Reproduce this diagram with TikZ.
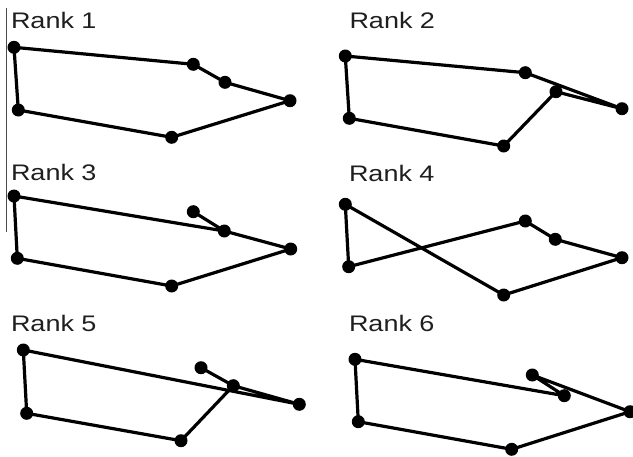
\documentclass[tikz,border=0pt]{standalone}
\usepackage{graphicx}
\usepackage{fontspec}
\setmainfont{Liberation Sans}
\tikzset{
  dot/.style={circle,fill=black,inner sep=0pt,minimum size=13pt},
  edge/.style={line width=3.2pt,line join=round,line cap=round},
  ranklabel/.style={anchor=base west,inner sep=0pt,outer sep=0pt,font=\fontsize{22.5}{26}\selectfont,text=black!88},
  rule/.style={line width=1pt,black!70}
}
\newcommand{\ranktext}[1]{\scalebox{1.2}[1]{#1}}
\begin{document}
\begin{tikzpicture}[x=1pt,y=-1pt]
\useasboundingbox (0,0) rectangle (633,456);
% vertical rule
\coordinate (r1) at (6.5,8);
\coordinate (r2) at (6.5,232);
\draw[rule] (r1) -- (r2);
% labels
\node[ranklabel] (l1) at (11,28.3) {\ranktext{Rank 1}};
\node[ranklabel] (l2) at (349.5,28.3) {\ranktext{Rank 2}};
\node[ranklabel] (l3) at (11,180.7) {\ranktext{Rank 3}};
\node[ranklabel] (l4) at (349,181) {\ranktext{Rank 4}};
\node[ranklabel] (l5) at (11,331.7) {\ranktext{Rank 5}};
\node[ranklabel] (l6) at (349,331.7) {\ranktext{Rank 6}};
% panel 1
\node[dot] (a1) at (14,47.3) {};
\node[dot] (f1) at (193.3,64.3) {};
\node[dot] (e1) at (225,82.3) {};
\node[dot] (d1) at (290,100.7) {};
\node[dot] (c1) at (171.7,137.3) {};
\node[dot] (b1) at (18.3,110) {};
\draw[edge] (a1.center) -- (f1.center) -- (e1.center) -- (d1.center) -- (c1.center) -- (b1.center) -- cycle;
% panel 2
\node[dot] (a2) at (345.3,56) {};
\node[dot] (f2) at (525.3,72.7) {};
\node[dot] (d2) at (622,108.7) {};
\node[dot] (g2) at (556,91.7) {};
\node[dot] (c2) at (503.7,146) {};
\node[dot] (b2) at (349.3,118.3) {};
\draw[edge] (a2.center) -- (f2.center) -- (d2.center) -- (g2.center) -- (c2.center) -- (b2.center) -- cycle;
% panel 3
\node[dot] (a3) at (14,196) {};
\node[dot] (e3) at (224.3,231) {};
\node[dot] (h3) at (193.3,211.7) {};
\node[dot] (d3) at (290.7,249) {};
\node[dot] (c3) at (171.7,286) {};
\node[dot] (b3) at (17.3,258.3) {};
\draw[edge] (a3.center) -- (e3.center) -- (d3.center) -- (c3.center) -- (b3.center) -- cycle;
\draw[edge] (h3.center) -- (e3.center);
% panel 4
\node[dot] (a4) at (345.3,204.3) {};
\node[dot] (c4) at (503.7,295) {};
\node[dot] (d4) at (622,257.7) {};
\node[dot] (e4) at (555.3,239.3) {};
\node[dot] (f4) at (525.3,221) {};
\node[dot] (b4) at (348.7,266.7) {};
\draw[edge] (a4.center) -- (c4.center) -- (d4.center) -- (e4.center) -- (f4.center) -- (b4.center) -- cycle;
% panel 5
\node[dot] (a5) at (23.3,350) {};
\node[dot] (d5) at (299.3,404.3) {};
\node[dot] (g5) at (233.3,385.7) {};
\node[dot] (h5) at (201,367.7) {};
\node[dot] (c5) at (181,440.7) {};
\node[dot] (b5) at (26.7,413.3) {};
\draw[edge] (a5.center) -- (d5.center) -- (g5.center) -- (c5.center) -- (b5.center) -- cycle;
\draw[edge] (h5.center) -- (g5.center);
% panel 6
\node[dot] (a6) at (355,359.3) {};
\node[dot] (g6) at (564.3,395.7) {};
\node[dot] (h6) at (532.3,375) {};
\node[dot] (d6) at (630,411.7) {};
\node[dot] (c6) at (511.7,449.3) {};
\node[dot] (b6) at (358.3,421.7) {};
\draw[edge] (a6.center) -- (g6.center) -- (h6.center) -- (d6.center) -- (c6.center) -- (b6.center) -- cycle;
\end{tikzpicture}
\end{document}
